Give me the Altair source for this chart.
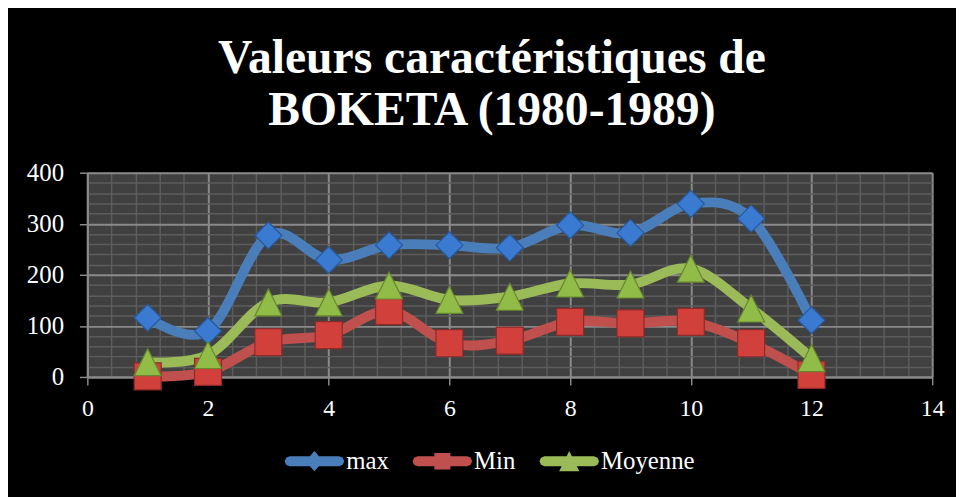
import altair as alt
import pandas as pd

# ---- data ----
months = [1, 2, 3, 4, 5, 6, 7, 8, 9, 10, 11, 12]
max_vals = [116, 90, 277, 229, 258, 258, 253, 297, 282, 339, 310, 111]
min_vals = [1, 10, 68, 82, 129, 66, 71, 108, 105, 108, 66, 4]
moy_vals = [29, 43, 146, 146, 179, 151, 157, 183, 181, 212, 134, 37]
series_names = ["max", "Min", "Moyenne"]

x_ticks = [0, 2, 4, 6, 8, 10, 12, 14]
y_ticks = [0, 100, 200, 300, 400]
x_grid = [round(0.4 * i, 1) for i in range(36)]
y_grid = [20 * i for i in range(21)]

line_colors = ["#4A7EBB", "#C0504D", "#9BBB59"]
marker_fill = ["#3A7AD0", "#D2403C", "#92BC48"]
marker_stroke = ["#28589A", "#8E2A28", "#66872E"]
legend_x = [199, 328, 456]

rows = []
for name, vals in zip(series_names, [max_vals, min_vals, moy_vals]):
    for m, v in zip(months, vals):
        rows.append({"x": m, "y": v, "series": name})
df = pd.DataFrame(rows)

FONT = "Liberation Serif"

# legend symbols: rounded bar with the series marker in the middle (one outline, no overlap)
R_END = "L0.951,-0.118L1,0L0.951,0.118L0.833,0.167"
L_END = "L-0.951,0.118L-1,0L-0.951,-0.118Z"
legend_paths = [
    "M-0.833,-0.167L-0.153,-0.167L0,-0.34L0.153,-0.167L0.833,-0.167" + R_END
    + "L0.153,0.167L0,0.34L-0.153,0.167L-0.833,0.167" + L_END,
    "M-0.833,-0.167L-0.27,-0.167L-0.27,-0.28L0.27,-0.28L0.27,-0.167L0.833,-0.167" + R_END
    + "L0.27,0.167L0.27,0.28L-0.27,0.28L-0.27,0.167L-0.833,0.167" + L_END,
    "M-0.833,-0.167L-0.0865,-0.167L0,-0.34L0.0865,-0.167L0.833,-0.167" + R_END
    + "L0.2535,0.167L0.34,0.34L-0.34,0.34L-0.2535,0.167L-0.833,0.167" + L_END,
]
marker_paths = ["M0,-1L1,0L0,1L-1,0Z", "square", "M0,-1L1,1L-1,1Z"]

x_enc = alt.X(
    "x:Q",
    scale=alt.Scale(domain=[0, 14], nice=False, zero=False),
    axis=alt.Axis(
        values=x_grid,
        tickCount=len(x_grid),
        title=None,
        grid=True,
        gridColor={"condition": {"test": "datum.value % 2 === 0", "value": "#8A8A8A"}, "value": "#5C5C5C"},
        gridWidth={"condition": {"test": "datum.value % 2 === 0", "value": 2}, "value": 1.5},
        labelExpr="datum.value % 2 === 0 ? format(datum.value, 'd') : ''",
        labelFont=FONT,
        labelFontSize=24,
        labelColor="white",
        labelPadding=12,
        labelFlush=False,
        labelOverlap=False,
        tickSize=8,
        tickWidth=1.5,
        tickColor={"condition": {"test": "datum.value % 2 === 0", "value": "#8A8A8A"}, "value": "transparent"},
        domainColor="#8A8A8A",
        domainWidth=2,
    ),
)
y_enc = alt.Y(
    "y:Q",
    scale=alt.Scale(domain=[0, 400], nice=False),
    axis=alt.Axis(
        values=y_grid,
        tickCount=len(y_grid),
        title=None,
        grid=True,
        gridColor={"condition": {"test": "datum.value % 100 === 0", "value": "#8A8A8A"}, "value": "#5C5C5C"},
        gridWidth={"condition": {"test": "datum.value % 100 === 0", "value": 2}, "value": 1.5},
        labelExpr="datum.value % 100 === 0 ? format(datum.value, 'd') : ''",
        labelFont=FONT,
        labelFontSize=25,
        labelColor="white",
        labelPadding=16,
        labelFlush=False,
        labelOverlap=False,
        tickSize=8,
        tickWidth=1.5,
        tickColor={"condition": {"test": "datum.value % 100 === 0", "value": "#8A8A8A"}, "value": "transparent"},
        domainColor="#8A8A8A",
        domainWidth=2,
    ),
)

lines = alt.Chart(df).mark_line(
    interpolate="cardinal", strokeWidth=10, strokeCap="round", strokeJoin="round"
).encode(
    x=x_enc,
    y=y_enc,
    stroke=alt.Stroke("series:N", scale=alt.Scale(domain=series_names, range=line_colors), legend=None),
    detail="series:N",
)

# one legend per series: tiny points (hidden under the real markers) carry a one-entry shape legend
legend_layers = []
for name, path, col, lx in zip(series_names, legend_paths, line_colors, legend_x):
    legend_layers.append(
        alt.Chart(df)
        .transform_filter(alt.datum.series == name)
        .mark_point(filled=True, size=20, color=col)
        .encode(
            x=x_enc,
            y=y_enc,
            shape=alt.Shape(
                "series:N",
                scale=alt.Scale(domain=[name], range=[path]),
                legend=alt.Legend(
                    title=None,
                    orient="none",
                    legendX=lx,
                    legendY=261,
                    labelFont=FONT,
                    labelFontSize=25,
                    labelColor="white",
                    labelOffset=2,
                    symbolSize=3600,
                    symbolFillColor=col,
                    symbolStrokeWidth=0,
                    symbolOpacity=1,
                ),
            ),
        )
    )

point_layers = []
for name, shp, fc, sc in zip(series_names, marker_paths, marker_fill, marker_stroke):
    point_layers.append(
        alt.Chart(df)
        .transform_filter(alt.datum.series == name)
        .mark_point(filled=True, shape=shp, size=740, fill=fc, stroke=sc, strokeWidth=1.2, opacity=1)
        .encode(x=x_enc, y=y_enc)
    )

chart = alt.layer(lines, *legend_layers, *point_layers).resolve_scale(
    shape="independent"
).properties(
    width=852,
    height=206,
    padding={"left": 80, "top": 164, "right": 24, "bottom": 119},
    autosize=alt.AutoSizeParams(type="none"),
    background="black",
    title=alt.TitleParams(
        text=["Valeurs caractéristiques de", "BOKETA (1980-1989)"],
        font=FONT,
        fontSize=48,
        fontWeight="bold",
        color="white",
        lineHeight=53,
        anchor="middle",
        dx=-18,
        offset=26,
    ),
).configure_view(fill="#404040", stroke=None)

chart.save("out.html", embed_options={"renderer": "svg", "actions": False})
